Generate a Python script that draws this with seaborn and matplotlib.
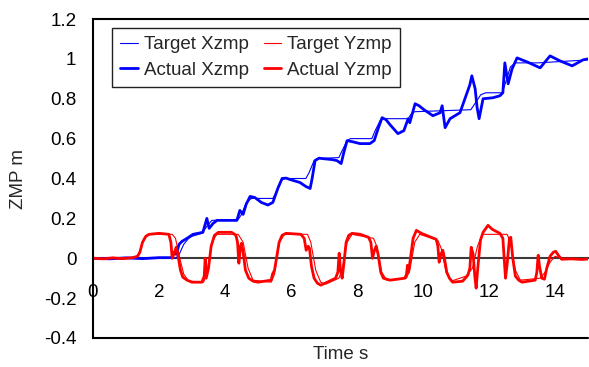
import matplotlib
matplotlib.use("Agg")
import matplotlib.pyplot as plt
import seaborn as sns
import pandas as pd

# Target and measured ZMP trajectories (time in s, position in m)
target_x_t = [0, 2.5, 2.6, 2.75, 2.9, 3.0, 3.3, 3.45, 3.6, 4.4, 4.5, 4.65, 4.8, 5.45, 5.55,
              5.7, 5.8, 6.45, 6.55, 6.7, 6.8, 7.45, 7.55, 7.7, 7.8, 8.45, 8.55, 8.7, 8.8,
              9.55, 9.65, 9.75, 11.45, 11.55, 11.75, 11.9, 12.4, 12.5, 12.65, 12.8, 13.5, 15.0]
target_x_v = [0, 0, 0.015, 0.07, 0.1, 0.11, 0.125, 0.16, 0.19, 0.195, 0.22, 0.28, 0.3, 0.3, 0.33,
              0.39, 0.4, 0.4, 0.43, 0.49, 0.5, 0.505, 0.54, 0.59, 0.6, 0.6, 0.64, 0.69, 0.7,
              0.7, 0.725, 0.735, 0.745, 0.77, 0.82, 0.83, 0.83, 0.88, 0.96, 0.98, 0.98, 0.995]

actual_x_t = [0, 0.5, 1.0, 1.5, 2.0, 2.39, 2.45, 2.52, 2.61, 2.7, 2.85, 3.03, 3.33, 3.45, 3.52,
              3.64, 3.76, 4.36, 4.45, 4.55, 4.64, 4.76, 4.9, 5.1, 5.3, 5.45, 5.6, 5.73, 5.85,
              5.97, 6.27, 6.45, 6.58, 6.64, 6.73, 6.85, 6.94, 7.24, 7.39, 7.52, 7.6, 7.7, 7.85,
              8.09, 8.39, 8.52, 8.64, 8.76, 8.88, 9.0, 9.24, 9.42, 9.55, 9.6, 9.76, 9.88, 10.03,
              10.3, 10.52, 10.58, 10.67, 10.82, 10.97, 11.12, 11.27, 11.42, 11.48, 11.58, 11.64,
              11.7, 11.82, 12.12, 12.33, 12.42, 12.48, 12.58, 12.7, 12.85, 13.15, 13.55, 13.85,
              14.15, 14.52, 14.85, 15.0]
actual_x_v = [0, -0.003, 0.002, -0.002, 0.003, 0.003, 0.03, 0.02, 0.07, 0.085, 0.1, 0.12, 0.13,
              0.2, 0.15, 0.175, 0.19, 0.19, 0.24, 0.22, 0.27, 0.31, 0.305, 0.28, 0.267, 0.28,
              0.35, 0.4, 0.402, 0.395, 0.38, 0.36, 0.35, 0.4, 0.49, 0.502, 0.5, 0.495, 0.49,
              0.475, 0.53, 0.59, 0.585, 0.575, 0.575, 0.59, 0.65, 0.705, 0.695, 0.67, 0.625,
              0.64, 0.7, 0.68, 0.775, 0.765, 0.745, 0.715, 0.73, 0.765, 0.655, 0.7, 0.715,
              0.73, 0.8, 0.87, 0.915, 0.85, 0.755, 0.7, 0.8, 0.805, 0.815, 0.83, 0.98, 0.875,
              0.95, 1.005, 0.985, 0.955, 1.015, 0.99, 0.965, 0.995, 1.0]

target_y_t = [0, 1.3, 1.4, 1.55, 1.7, 2.4, 2.5, 2.6, 2.75, 2.9, 3.35, 3.45, 3.6, 3.75, 4.4,
              4.55, 4.7, 4.85, 5.4, 5.5, 5.65, 5.8, 6.5, 6.6, 6.75, 6.9, 7.05, 7.45, 7.55, 7.7,
              7.85, 8.5, 8.6, 8.75, 8.9, 9.5, 9.6, 9.75, 9.9, 10.45, 10.55, 10.7, 10.85, 11.3,
              11.5, 11.65, 11.8, 12.55, 12.65, 12.8, 12.95, 13.55, 13.7, 13.85, 14.0, 14.2, 15.0]
target_y_v = [0, 0, 0.03, 0.1, 0.12, 0.12, 0.1, 0.02, -0.08, -0.115, -0.12, -0.08, 0.08, 0.12,
              0.12, 0.08, -0.05, -0.11, -0.12, -0.08, 0.08, 0.12, 0.12, 0.08, -0.06, -0.12,
              -0.13, -0.1, -0.06, 0.08, 0.12, 0.1, 0.06, -0.07, -0.11, -0.1, -0.06, 0.08, 0.12,
              0.09, 0.05, -0.07, -0.115, -0.09, -0.05, 0.06, 0.12, 0.12, 0.08, -0.06, -0.11,
              -0.1, -0.07, -0.02, 0.01, 0.0, -0.005]

actual_y_t = [0, 0.3, 0.6, 0.9, 1.2, 1.35, 1.42, 1.5, 1.6, 1.7, 2.0, 2.3, 2.36, 2.4, 2.45, 2.52,
              2.56, 2.65, 2.72, 2.85, 3.0, 3.3, 3.37, 3.4, 3.43, 3.5, 3.58, 3.68, 3.8, 4.2,
              4.33, 4.38, 4.42, 4.47, 4.5, 4.55, 4.62, 4.72, 4.85, 5.0, 5.4, 5.44, 5.5, 5.56,
              5.64, 5.73, 5.85, 6.3, 6.4, 6.46, 6.52, 6.56, 6.62, 6.7, 6.8, 6.9, 7.1, 7.35,
              7.42, 7.46, 7.5, 7.55, 7.6, 7.67, 7.75, 7.85, 8.1, 8.35, 8.42, 8.47, 8.53, 8.58,
              8.64, 8.72, 8.8, 9.0, 9.45, 9.5, 9.53, 9.56, 9.62, 9.7, 9.8, 9.95, 10.4, 10.45,
              10.49, 10.54, 10.6, 10.65, 10.72, 10.8, 10.9, 11.2, 11.36, 11.42, 11.46, 11.52,
              11.57, 11.61, 11.66, 11.74, 11.82, 11.97, 12.1, 12.33, 12.42, 12.47, 12.5, 12.55,
              12.62, 12.66, 12.72, 12.8, 12.9, 13.0, 13.4, 13.45, 13.49, 13.53, 13.6, 13.68,
              13.75, 13.85, 13.95, 14.02, 14.1, 14.2, 14.5, 14.8, 15.0]
actual_y_v = [0, -0.003, 0.002, -0.002, 0.003, 0.01, 0.03, 0.08, 0.11, 0.12, 0.125, 0.12, 0.08,
              0.0, 0.02, 0.055, 0.03, -0.06, -0.095, -0.11, -0.12, -0.12, -0.09, 0.0, -0.1,
              -0.05, 0.06, 0.115, 0.13, 0.13, 0.115, 0.08, -0.025, 0.06, 0.075, 0.03, -0.06,
              -0.1, -0.115, -0.12, -0.11, -0.08, -0.06, 0.0, 0.08, 0.115, 0.125, 0.12, 0.1,
              0.04, 0.06, 0.05, -0.04, -0.1, -0.125, -0.135, -0.12, -0.1, -0.07, 0.025, -0.06,
              -0.1, -0.03, 0.08, 0.115, 0.125, 0.12, 0.105, 0.08, 0.0, 0.04, 0.06, 0.02, -0.07,
              -0.1, -0.11, -0.1, -0.08, -0.035, -0.07, 0.0, 0.1, 0.14, 0.125, 0.095, 0.06,
              -0.02, 0.02, 0.04, 0.0, -0.07, -0.1, -0.12, -0.115, -0.085, -0.05, 0.055, 0.02,
              -0.09, -0.15, -0.05, 0.09, 0.13, 0.165, 0.145, 0.125, 0.1, -0.02, -0.1, -0.03,
              0.1, 0.105, 0.0, -0.09, -0.11, -0.12, -0.11, -0.07, 0.015, -0.04, -0.1, -0.105,
              -0.05, 0.01, 0.03, 0.035, 0.015, -0.005, -0.003, -0.006, -0.004]

x_ticks = [0, 2, 4, 6, 8, 10, 12, 14]
x_tick_labels = ["0", "2", "4", "6", "8", "10", "12", "14"]
y_ticks = [-0.4, -0.2, 0, 0.2, 0.4, 0.6, 0.8, 1.0, 1.2]
y_tick_labels = ["-0.4", "-0.2", "0", "0.2", "0.4", "0.6", "0.8", "1", "1.2"]

sns.set_style("white")
plt.rcParams["font.family"] = ["Liberation Sans", "DejaVu Sans"]
FS = 13.5

fig = plt.figure(figsize=(5.89, 3.67), dpi=100)
ax = fig.add_axes([93 / 589, 1 - 338 / 367, 495 / 589, 319 / 367])

series = [
    ("Target Xzmp", target_x_t, target_x_v, "#0000ff", 0.8),
    ("Target Yzmp", target_y_t, target_y_v, "#ff0000", 0.8),
    ("Actual Xzmp", actual_x_t, actual_x_v, "#0000ff", 2.0),
    ("Actual Yzmp", actual_y_t, actual_y_v, "#ff0000", 2.0),
]
for name, t, v, col, lw in series:
    df = pd.DataFrame({"time": t, "zmp": v})
    sns.lineplot(data=df, x="time", y="zmp", ax=ax, color=col, linewidth=lw,
                 label=name, estimator=None, sort=False,
                 solid_joinstyle="round", solid_capstyle="round")

ax.set_xlim(0, 15)
ax.set_ylim(-0.4, 1.2)
ax.set_xticks(x_ticks, x_tick_labels)
ax.set_yticks(y_ticks, y_tick_labels)

# frame: left and top border, x axis drawn along zero, bottom border below
for s in ("left", "top"):
    ax.spines[s].set_color("black")
    ax.spines[s].set_linewidth(1.5)
ax.spines["right"].set_visible(False)
ax.spines["bottom"].set_position(("data", 0))
ax.spines["bottom"].set_color("#3a3a3a")
ax.spines["bottom"].set_linewidth(1.5)
ax.spines["bottom"].set_zorder(1)
ax.axhline(-0.4, color="black", linewidth=1.5, clip_on=False)

ax.tick_params(axis="y", direction="in", length=5, width=1, pad=12,
               colors="black", labelsize=FS)
ax.tick_params(axis="x", direction="in", length=5, width=1, pad=18.5,
               colors="black", labelsize=FS)

ax.set_xlabel("Time s", fontsize=FS)
ax.set_ylabel("ZMP m", fontsize=FS)
ax.xaxis.set_label_coords(0.5, -0.025)
ax.yaxis.set_label_coords(-0.133, 0.5)

handles, labels = ax.get_legend_handles_labels()
order = [0, 2, 1, 3]
leg = ax.legend([handles[i] for i in order], [labels[i] for i in order], ncol=2,
                loc="upper left", bbox_to_anchor=(0.038, 0.972), borderaxespad=0,
                fontsize=FS, frameon=True, fancybox=False, framealpha=1,
                edgecolor="#222222", handlelength=0.95, handletextpad=0.3,
                columnspacing=0.8, borderpad=0.45, labelspacing=0.45)
leg.get_frame().set_linewidth(1.0)

fig.savefig("out.png", dpi=100)
